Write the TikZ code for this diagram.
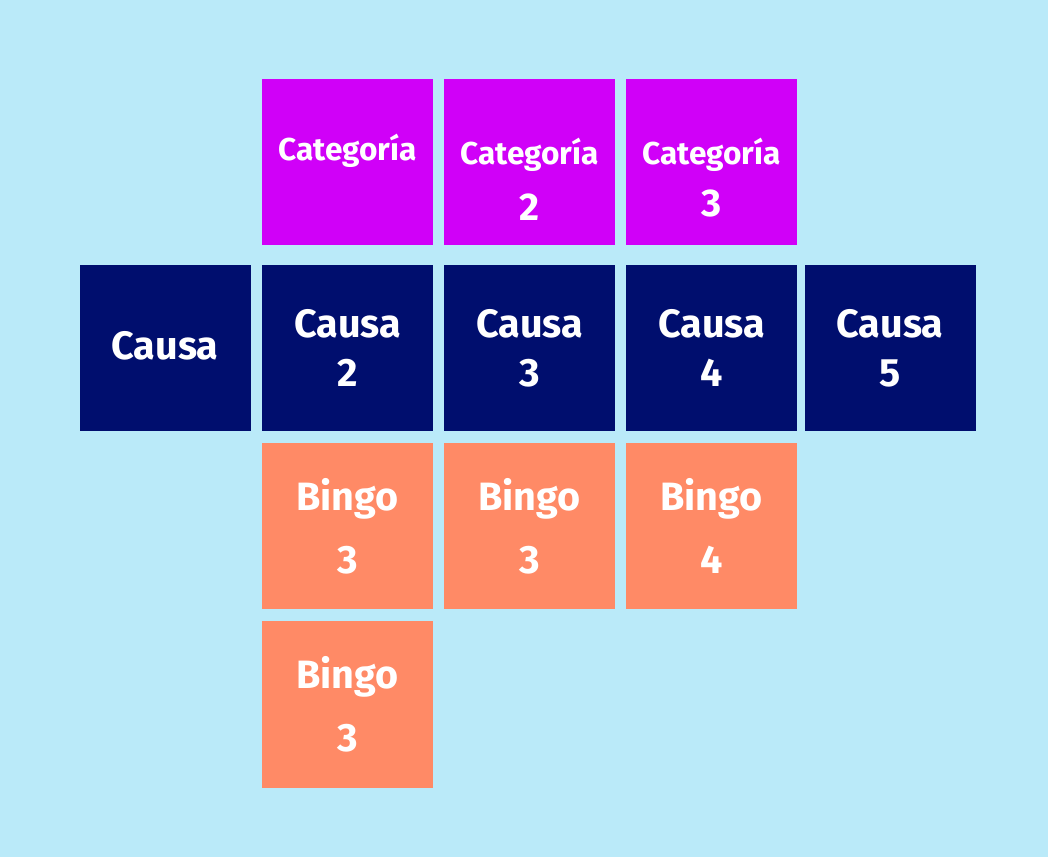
\documentclass[tikz,border=0pt]{standalone}
\usepackage{fontspec}
\setmainfont{Fira Sans}
\definecolor{skyback}{HTML}{BAEAF9}
\definecolor{catcol}{HTML}{D000F8}
\definecolor{causacol}{HTML}{000E6E}
\definecolor{bingocol}{HTML}{FF8A66}
\tikzset{
  cell/.style={fill=#1,draw=none,minimum width=171*0.02cm,minimum height=166*0.02cm,
    inner sep=0pt,text=white,align=center,font=\bfseries\fontsize{22.5}{28}\selectfont},
  catlbl/.style={text=white,align=center,inner sep=0pt,font=\bfseries\fontsize{18}{30}\selectfont}
}
\begin{document}
\begin{tikzpicture}[x=0.02cm,y=-0.02cm]
  \fill[skyback] (0,0) rectangle (1048,857);
  \useasboundingbox (0,0) rectangle (1048,857);
  % categories
  \node[cell=catcol] (cat1) at (347.5,162.5) {};
  \node[cell=catcol] (cat2) at (529.5,162.5) {};
  \node[cell=catcol] (cat3) at (711.5,162.5) {};
  \node[catlbl] (catlbl1) at ([yshift=12*0.02cm]cat1.center) {Categoría};
  \node[catlbl] (catlbl2) at ([yshift=-17*0.02cm]cat2.center) {Categoría\\[2pt]{\fontsize{22}{22}\selectfont 2}};
  \node[catlbl] (catlbl3) at ([yshift=-15*0.02cm]cat3.center) {Categoría\\{\fontsize{22}{22}\selectfont 3}};
  % causes
  \node[cell=causacol] (causa1) at (165,348) {\raisebox{3pt}{Causa}};
  \foreach \x/\n in {347.5/2,529.5/3,711.5/4,890/5}
    {
    \node[cell=causacol] (causa\n) at (\x,348) {Causa\\\n};
    }
  % bingo
  \node[cell=bingocol,font=\bfseries\fontsize{22.5}{36}\selectfont] (bingo1) at (347.5,526) {Bingo\\3};
  \node[cell=bingocol,font=\bfseries\fontsize{22.5}{36}\selectfont] (bingo2) at (529.5,526.5) {Bingo\\3};
  \node[cell=bingocol,font=\bfseries\fontsize{22.5}{36}\selectfont] (bingo3) at (711.5,526) {Bingo\\4};
  \node[cell=bingocol,font=\bfseries\fontsize{22.5}{36}\selectfont] (bingo4) at (347.5,704.5) {Bingo\\3};
\end{tikzpicture}
\end{document}
